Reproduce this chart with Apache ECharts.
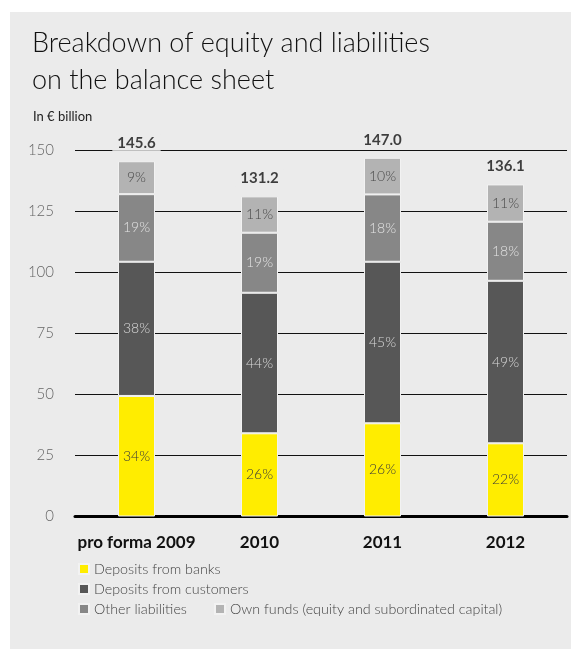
<!DOCTYPE html>
<html><head><meta charset="utf-8">
<script src="https://cdn.jsdelivr.net/npm/echarts@6/dist/echarts.min.js"></script>
<style>html,body{margin:0;padding:0;background:#fff}#c{width:571px;height:649px}</style>
</head><body><div id="c"></div>
<script>
const categories = ['pro forma 2009', '2010', '2011', '2012'];
const seriesNames = ['Deposits from banks', 'Deposits from customers', 'Other liabilities', 'Own funds (equity and subordinated capital)'];
const banks = [49.4, 34.1, 38.2, 30.0];
const customers = [55.0, 57.6, 66.2, 66.6];
const other = [27.7, 24.6, 27.6, 24.2];
const ownFunds = [13.5, 14.9, 15.0, 15.3];
const totals = [145.6, 131.2, 147.0, 136.1];
const pctBanks = ['34%', '26%', '26%', '22%'];
const pctCustomers = ['38%', '44%', '45%', '49%'];
const pctOther = ['19%', '19%', '18%', '18%'];
const pctOwn = ['9%', '11%', '10%', '11%'];
const yTicks = [0, 25, 50, 75, 100, 125, 150];

const FONT = 'Lato, "Open Sans", sans-serif';
const colors = ['#ffed00', '#575757', '#878787', '#b3b3b3'];
const labelColors = ['#3a3a3a', '#d8d8d8', '#e2e2e2', '#4a4a4a'];
const pcts = [pctBanks, pctCustomers, pctOther, pctOwn];
const vals = [banks, customers, other, ownFunds];

const chart = echarts.init(document.getElementById('c'));
const barSeries = vals.map((v, i) => ({
  name: seriesNames[i],
  type: 'bar',
  stack: 'total',
  data: v,
  barWidth: 37,
  itemStyle: { color: colors[i], borderColor: '#f2f2f2', borderWidth: 1 },
  label: {
    show: true, position: 'inside',
    formatter: p => pcts[i][p.dataIndex],
    color: labelColors[i], fontFamily: FONT, fontSize: 14, fontWeight: 300
  },
  emphasis: { disabled: true }
}));

const legendBase = {
  itemWidth: 10, itemHeight: 10, icon: 'rect', itemGap: 30,
  textStyle: { fontFamily: FONT, fontSize: 14.3, color: '#444', fontWeight: 300 },
  selectedMode: false
};

chart.setOption({
  animation: false,
  graphic: [{ type: 'rect', z: -10, shape: { x: 10, y: 12, width: 561, height: 637 }, style: { fill: '#ebebeb' } }],
  title: [
    { text: 'Breakdown of equity and liabilities\non the balance sheet', left: 27, top: 20,
      textStyle: { fontFamily: FONT, fontSize: 27, fontWeight: 300, color: '#111', lineHeight: 37 } },
    { text: 'In € billion', left: 28, top: 105,
      textStyle: { fontFamily: FONT, fontSize: 13, fontWeight: 'normal', color: '#222' } }
  ],
  legend: [
    Object.assign({}, legendBase, { data: [seriesNames[0]], left: 73, top: 557 }),
    Object.assign({}, legendBase, { data: [seriesNames[1]], left: 73, top: 577 }),
    Object.assign({}, legendBase, { data: [seriesNames[2]], left: 73, top: 597 }),
    Object.assign({}, legendBase, { data: [seriesNames[3]], left: 209, top: 597 })
  ],
  grid: { left: 75, right: 4, top: 150.5, bottom: 132.5 },
  xAxis: {
    type: 'category', data: categories,
    axisLine: { lineStyle: { color: '#000', width: 3 } },
    axisTick: { show: false },
    axisLabel: { interval: 0, fontFamily: FONT, fontSize: 17, fontWeight: 'bold', color: '#111', margin: 18 }
  },
  yAxis: {
    type: 'value', min: yTicks[0], max: yTicks[yTicks.length - 1], interval: 25,
    axisLine: { show: false }, axisTick: { show: false },
    splitLine: { lineStyle: { color: '#111', width: 1 } },
    axisLabel: { fontFamily: FONT, fontSize: 15, fontWeight: 300, color: '#666', margin: 21 }
  },
  series: barSeries.concat([{
    type: 'scatter', data: totals, symbolSize: 1, itemStyle: { color: 'rgba(0,0,0,0)' }, z: 5,
    label: {
      show: true, position: 'top', distance: 9,
      formatter: p => totals[p.dataIndex].toFixed(1),
      fontFamily: FONT, fontSize: 15, fontWeight: 'bold', color: '#111',
      backgroundColor: '#ebebeb', padding: [1, 5]
    },
    emphasis: { disabled: true }, silent: true
  }])
});
</script></body></html>
